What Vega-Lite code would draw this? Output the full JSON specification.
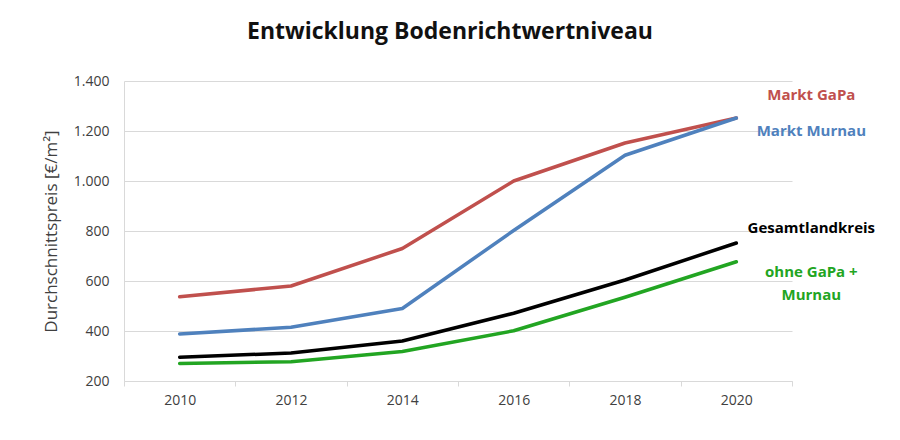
{
  "$schema": "https://vega.github.io/schema/vega-lite/v6.json",
  "width": 668,
  "height": 300,
  "autosize": {"type": "none"},
  "padding": {"left": 124, "top": 81, "right": 108, "bottom": 59},
  "background": "white",
  "config": {
    "locale": {"number": {"decimal": ",", "thousands": ".", "grouping": [3], "currency": ["", " €"]}},
    "view": {"stroke": null},
    "font": "Open Sans"
  },
  "title": {
    "text": "Entwicklung Bodenrichtwertniveau",
    "anchor": "middle",
    "fontSize": 23,
    "fontWeight": "bold",
    "color": "#111111",
    "font": "Open Sans",
    "offset": 30,
    "dx": -8
  },
  "datasets": {
    "series": [
      {"year": "2010", "series": "Markt GaPa", "value": 537},
      {"year": "2012", "series": "Markt GaPa", "value": 580},
      {"year": "2014", "series": "Markt GaPa", "value": 730},
      {"year": "2016", "series": "Markt GaPa", "value": 1000},
      {"year": "2018", "series": "Markt GaPa", "value": 1152},
      {"year": "2020", "series": "Markt GaPa", "value": 1252},
      {"year": "2010", "series": "Markt Murnau", "value": 388},
      {"year": "2012", "series": "Markt Murnau", "value": 415},
      {"year": "2014", "series": "Markt Murnau", "value": 490},
      {"year": "2016", "series": "Markt Murnau", "value": 802},
      {"year": "2018", "series": "Markt Murnau", "value": 1103},
      {"year": "2020", "series": "Markt Murnau", "value": 1252},
      {"year": "2010", "series": "Gesamtlandkreis", "value": 295},
      {"year": "2012", "series": "Gesamtlandkreis", "value": 312},
      {"year": "2014", "series": "Gesamtlandkreis", "value": 360},
      {"year": "2016", "series": "Gesamtlandkreis", "value": 471},
      {"year": "2018", "series": "Gesamtlandkreis", "value": 604},
      {"year": "2020", "series": "Gesamtlandkreis", "value": 752},
      {"year": "2010", "series": "ohne GaPa + Murnau", "value": 270},
      {"year": "2012", "series": "ohne GaPa + Murnau", "value": 277},
      {"year": "2014", "series": "ohne GaPa + Murnau", "value": 318},
      {"year": "2016", "series": "ohne GaPa + Murnau", "value": 401},
      {"year": "2018", "series": "ohne GaPa + Murnau", "value": 535},
      {"year": "2020", "series": "ohne GaPa + Murnau", "value": 677}
    ],
    "labels": [
      {"year": "2020", "series": "Markt GaPa", "label": "Markt GaPa", "anchor": 1344},
      {"year": "2020", "series": "Markt Murnau", "label": "Markt Murnau", "anchor": 1200},
      {"year": "2020", "series": "Gesamtlandkreis", "label": "Gesamtlandkreis", "anchor": 812},
      {"year": "2020", "series": "ohne GaPa + Murnau", "label": "ohne GaPa +\nMurnau", "anchor": 636}
    ]
  },
  "encoding": {
    "x": {
      "field": "year",
      "type": "ordinal",
      "bandPosition": 0.5,
      "scale": {"type": "band", "paddingInner": 0, "paddingOuter": 0},
      "axis": {
        "title": null,
        "labelAngle": 0,
        "tickBand": "extent",
        "grid": false,
        "domainColor": "#d9d9d9",
        "tickColor": "#d9d9d9",
        "tickSize": 5,
        "labelPadding": 7,
        "labelFontSize": 14,
        "labelColor": "#404040",
        "labelFont": "Open Sans"
      }
    },
    "color": {
      "field": "series",
      "type": "nominal",
      "legend": null,
      "scale": {
        "domain": ["Markt GaPa", "Markt Murnau", "Gesamtlandkreis", "ohne GaPa + Murnau"],
        "range": ["#c0504d", "#4f81bd", "#000000", "#22a522"]
      }
    }
  },
  "layer": [
    {
      "data": {"name": "series"},
      "mark": {"type": "line", "strokeWidth": 3.5, "strokeCap": "round", "strokeJoin": "round"},
      "encoding": {
        "y": {
          "field": "value",
          "type": "quantitative",
          "scale": {"domain": [200, 1400], "nice": false, "zero": false},
          "axis": {
            "title": "Durchschnittspreis [€/m²]",
            "titleFontSize": 17,
            "titleFontWeight": "normal",
            "titleColor": "#404040",
            "titleFont": "Open Sans",
            "titlePadding": 13,
            "values": [200, 400, 600, 800, 1000, 1200, 1400],
            "format": ",d",
            "ticks": false,
            "domain": true,
            "domainColor": "#d9d9d9",
            "gridColor": "#d9d9d9",
            "labelPadding": 15,
            "labelFontSize": 14,
            "labelColor": "#404040",
            "labelFont": "Open Sans"
          }
        }
      }
    },
    {
      "data": {"name": "labels"},
      "mark": {"type": "text", "fontWeight": "bold", "fontSize": 15, "font": "Open Sans", "align": "center", "dx": 75, "lineBreak": "\n", "lineHeight": 23},
      "encoding": {
        "y": {"field": "anchor", "type": "quantitative"},
        "text": {"field": "label"}
      }
    }
  ]
}
